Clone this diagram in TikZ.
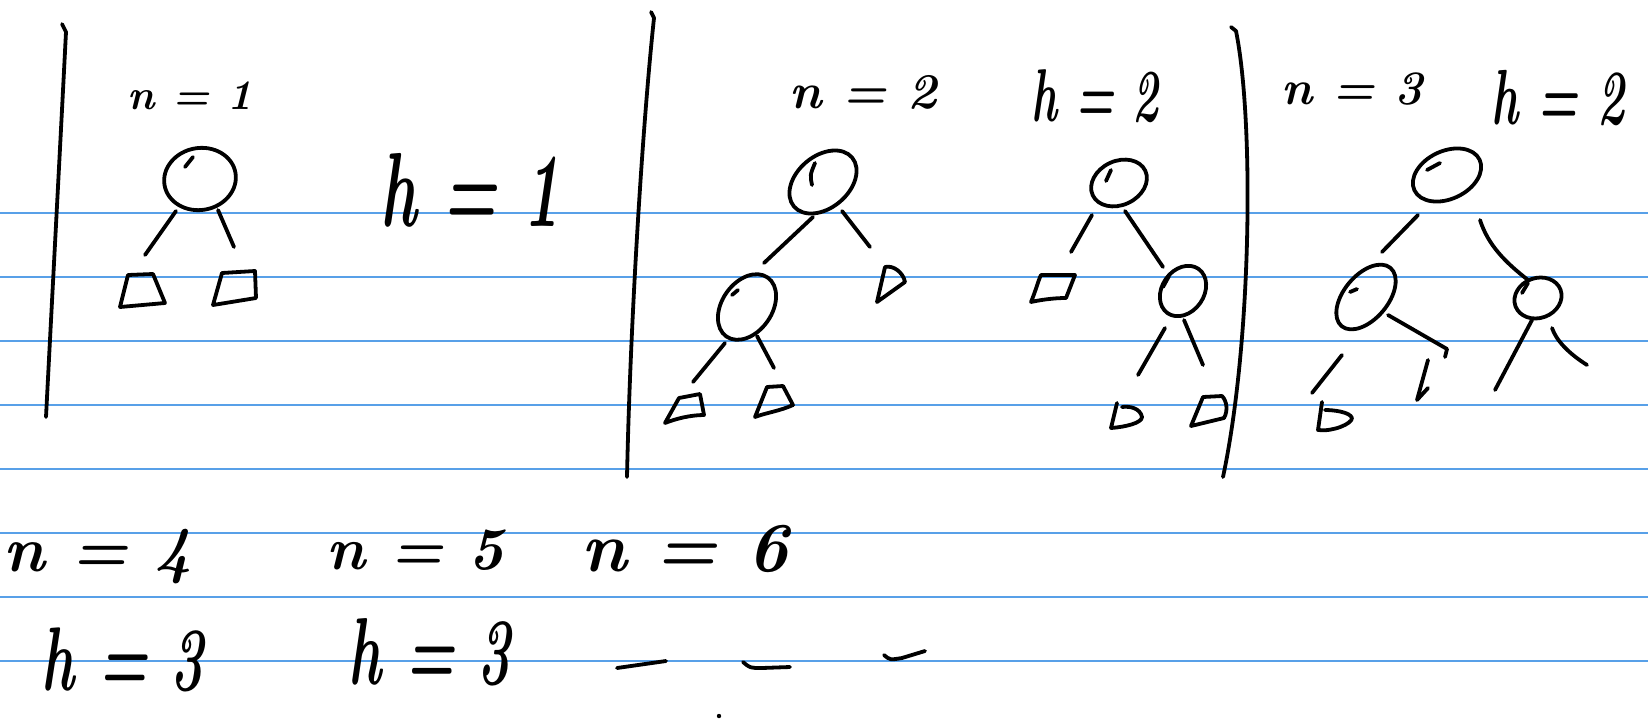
\documentclass[tikz,border=0pt]{standalone}
\usetikzlibrary{shapes.geometric,calc}
\definecolor{ruling}{RGB}{88,160,232}
\newcommand{\handsz}[1]{\fontsize{#1}{#1}\selectfont\bfseries\itshape}
\begin{document}
\begin{tikzpicture}[x=1pt,y=-1pt,
  ink/.style={line width=3.8pt,line cap=round,line join=round,black},
  tnode/.style={ellipse,draw,ink,inner sep=0pt,outer sep=0pt},
  rule/.style={ruling,line width=1.6pt},
  nlab/.style={anchor=base,inner sep=0pt},
  hlab/.style={anchor=base,inner sep=0pt,yscale=1.7}]
\fill[white] (0,0) rectangle (1648,718);
\useasboundingbox (0,0) rectangle (1648,718);
% ruled paper
\foreach \yy in {213,277,341,405,469,533,597,661}
  \draw[rule] (0,\yy) -- (1648,\yy);
% separating strokes
\draw[ink] (62,24) -- (66,32) .. controls (60,150) and (52,300) .. (46,417);
\draw[ink] (651,12) -- (654,18) .. controls (642,130) and (630,330) .. (627,477);
\draw[ink] (1231,27) -- (1236,31) .. controls (1254,120) and (1252,340) .. (1223,477);

% ---------- labels ----------
\node[nlab,font=\handsz{42}] (n1) at (190,109) {n = 1};
\node[hlab,font=\handsz{62}] (h1) at (470,226) {h = 1};
\node[nlab,font=\handsz{50}] (n2) at (863,108) {n = 2};
\node[hlab,font=\handsz{44}] (h2) at (1095,121) {h = 2};
\node[nlab,font=\handsz{48}] (n3) at (1352,104) {n = 3};
\node[hlab,font=\handsz{46}] (h3) at (1558,124) {h = 2};
\node[nlab,font=\handsz{64}] (n4) at (98,571) {n = 4};
\node[nlab,font=\handsz{60}] (n5) at (415,569) {n = 5};
\node[nlab,font=\handsz{70}] (n6) at (685,571) {n = 6};
\node[hlab,font=\handsz{56},yscale=0.95] (h4) at (123,690) {h = 3};
\node[hlab,font=\handsz{56}] (h5) at (430,684) {h = 3};

% ---------- tree n=1 ----------
\node[tnode,minimum width=72pt,minimum height=62pt,rotate=10] (r1) at (200,179) {};
\draw[ink] ($(r1)+(-15,-12)$) -- ($(r1)+(-7,-22)$);
\coordinate (q1a) at (142,274);
\coordinate (q1b) at (238,272);
\begin{scope}[shift={(q1a)}]
  \draw[ink] (-14,1) -- (11,0) -- (23,29) -- (-22,33) -- cycle;
\end{scope}
\begin{scope}[shift={(q1b)}]
  \draw[ink] (-16,1) -- (17,-1) -- (18,26) -- (-25,33) -- cycle;
\end{scope}
\draw[ink] ($(r1)+(-24,32)$) -- ($(q1a)+(3,-19)$);
\draw[ink] ($(r1)+(18,31)$) -- ($(q1b)+(-4,-25)$);

% ---------- tree n=2, left ----------
\node[tnode,minimum width=76pt,minimum height=52pt,rotate=40] (r2) at (823,182) {};
\draw[ink] ($(r2)+(-11,3)$) .. controls ($(r2)+(-13,-7)$) .. ($(r2)+(-8,-19)$);
\node[tnode,minimum width=72pt,minimum height=50pt,rotate=55] (c2) at (747,307) {};
\draw[ink] ($(c2)+(-9,-17)$) -- ($(c2)+(-15,-12)$);
\coordinate (q2b) at (885,267);
\coordinate (q2a) at (685,396);
\coordinate (q2c) at (775,386);
\begin{scope}[shift={(q2b)}]
  \draw[ink] (0,0) .. controls (8,-2) and (18,5) .. (20,15) -- (-8,35) -- cycle;
\end{scope}
\begin{scope}[shift={(q2a)}]
  \draw[ink] (-6,2) -- (15,-2) -- (19,19) .. controls (5,19) and (-10,23) .. (-20,27) -- cycle;
\end{scope}
\begin{scope}[shift={(q2c)}]
  \draw[ink] (-8,1) -- (8,0) -- (18,19) .. controls (5,25) and (-10,27) .. (-20,31) -- cycle;
\end{scope}
\draw[ink] ($(r2)+(-10,35)$) -- ($(c2)+(17,-44)$);
\draw[ink] ($(r2)+(19,29)$) -- ($(q2b)+(-15,-20)$);
\draw[ink] ($(c2)+(-22,36)$) -- ($(q2a)+(8,-14)$);
\draw[ink] ($(c2)+(10,29)$) -- ($(q2c)+(-1,-18)$);

% ---------- tree n=2, right ----------
\node[tnode,minimum width=58pt,minimum height=44pt,rotate=25] (r3) at (1119,183) {};
\draw[ink] ($(r3)+(-13,-2)$) -- ($(r3)+(-8,-13)$);
\node[tnode,minimum width=54pt,minimum height=42pt,rotate=55] (c3) at (1183,291) {};
\draw[ink] ($(c3)+(-20,-4)$) -- ($(c3)+(-14,-15)$);
\coordinate (q3a) at (1058,275);
\coordinate (q3b) at (1120,403);
\coordinate (q3c) at (1208,397);
\begin{scope}[shift={(q3a)}]
  \draw[ink] (-17,0) -- (17,0) -- (8,23) .. controls (-5,23) and (-18,25) .. (-27,27) .. controls (-22,15) and (-20,6) .. (-17,0) -- cycle;
\end{scope}
\begin{scope}[shift={(q3b)}]
  \draw[ink] (-3,0) -- (-9,25) .. controls (5,24) and (22,20) .. (22,14) .. controls (20,5) and (10,3) .. (2,4);
\end{scope}
\begin{scope}[shift={(q3c)}]
  \draw[ink] (-5,0) -- (14,-1) .. controls (19,4) and (20,14) .. (16,21) -- (-17,29) -- cycle;
\end{scope}
\draw[ink] ($(r3)+(-27,32)$) -- ($(q3a)+(13,-23)$);
\draw[ink] ($(r3)+(6,28)$) -- ($(c3)+(-20,-24)$);
\draw[ink] ($(c3)+(-18,37)$) -- ($(q3b)+(18,-28)$);
\draw[ink] ($(c3)+(1,29)$) -- ($(q3c)+(-5,-32)$);

% ---------- tree n=3 ----------
\node[tnode,minimum width=72pt,minimum height=48pt,rotate=25] (r4) at (1447,175) {};
\draw[ink] ($(r4)+(-20,-5)$) -- ($(r4)+(-7,-12)$);
\node[tnode,minimum width=76pt,minimum height=44pt,rotate=50] (c4a) at (1366,297) {};
\draw[ink] ($(c4a)+(-16,-5)$) -- ($(c4a)+(-9,-8)$);
\node[tnode,minimum width=48pt,minimum height=40pt,rotate=20] (c4b) at (1538,298) {};
\draw[ink] ($(c4b)+(-16,-5)$) -- ($(c4b)+(-10,-15)$);
\coordinate (q4a) at (1322,402);
\begin{scope}[shift={(q4a)}]
  \draw[ink] (0,0) -- (-4,28) .. controls (10,30) and (30,22) .. (30,16) .. controls (28,10) and (12,8) .. (3,8);
\end{scope}
\coordinate (q4b) at (1428,360);
\draw[ink] (q4b) -- ($(q4b)+(-11,40)$) -- ($(q4b)+(0,28)$);
\draw[ink] ($(r4)+(-29,40)$) -- ($(c4a)+(16,-45)$);
\draw[ink] ($(r4)+(33,45)$) .. controls ($(r4)+(41,70)$) and ($(r4)+(58,87)$) .. ($(c4b)+(-10,-18)$);
\draw[ink] ($(c4a)+(-24,58)$) -- ($(q4a)+(-10,-9)$);
\draw[ink] ($(c4a)+(22,18)$) -- ($(c4a)+(81,52)$) -- ($(c4a)+(79,60)$);
\draw[ink] ($(c4b)+(-6,22)$) -- ($(c4b)+(-43,92)$);
\draw[ink] ($(c4b)+(14,30)$) .. controls ($(c4b)+(18,42)$) and ($(c4b)+(30,55)$) .. ($(c4b)+(49,67)$);

% ---------- unfinished entries ----------
\draw[ink] (617,668) -- (666,661);
\draw[ink] (743,662) .. controls (750,668) .. (762,668) -- (790,667);
\draw[ink] (884,655) .. controls (890,660) .. (902,658) -- (925,651);
\fill (719,716) circle (2.2pt);
\end{tikzpicture}
\end{document}
